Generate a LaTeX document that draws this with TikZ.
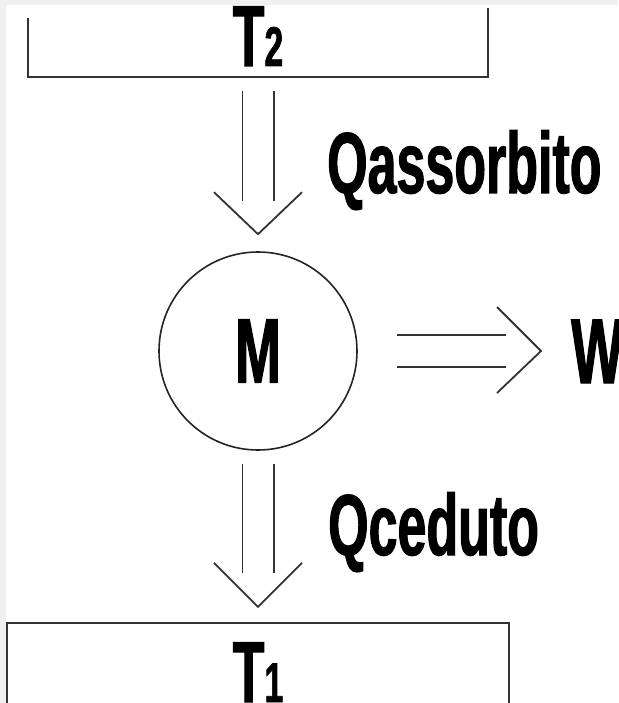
\documentclass[tikz,border=0pt]{standalone}
\usepackage{fontspec}
\setmainfont{Liberation Sans}[FakeStretch=0.6, FakeBold=1.2]
\usetikzlibrary{calc}
\definecolor{frame}{HTML}{F0F0F0}
\definecolor{ink}{HTML}{333333}
\begin{document}
\begin{tikzpicture}[x=1pt,y=-1pt,
  boxline/.style={draw=ink, line width=2.4pt},
  flow/.style={draw=ink, line width=1.8pt},
  lbl/.style={inner sep=0pt, font=\bfseries\fontsize{86.6}{90}\selectfont},
  big/.style={inner sep=0pt, font=\bfseries\fontsize{92}{96}\selectfont},
]
% page frame
\fill[frame] (0,0) rectangle (618,703);
\fill[white] (6,5) rectangle (618,703);
\useasboundingbox (0,0) rectangle (618,703);

% reservoirs and engine
\node[minimum width=460pt, minimum height=74pt, inner sep=0pt] (hot) at (258,40) {};
\node[minimum width=502pt, minimum height=100pt, inner sep=0pt] (cold) at (258,673) {};
\node[circle, draw=ink!70!black, line width=1.6pt, minimum size=198pt, big] (m) at (258,351) {M};

\draw[boxline] (hot.south west |- 0,18) -- (hot.south west) -- (hot.south east) -- (hot.south east |- 0,8);
\draw[boxline] (cold.south west |- 0,706) -- (cold.north west) -- (cold.north east) -- (cold.south east |- 0,706);

\node[lbl, anchor=base] (hotlbl) at (258,66) {T{\fontsize{56}{58}\selectfont 2}};
\node[lbl, anchor=base] (coldlbl) at (258,702) {T{\fontsize{56}{58}\selectfont 1}};

% heat absorbed
\draw[flow] ($(hot.south)+(-15.6,14)$) -- ($(m.north)+(-15.6,-50)$);
\draw[flow] ($(hot.south)+(15.6,14)$) -- ($(m.north)+(15.6,-50)$);
\draw[flow] ($(m.north)+(-44,-59)$) -- ($(m.north)+(0,-17)$) -- ($(m.north)+(44,-59)$);
\node[lbl, anchor=base west] (qin) at (327,193) {Qassorbito};

% heat released
\draw[flow] ($(m.south)+(-15.6,13)$) -- ($(cold.north)+(-15.6,-50)$);
\draw[flow] ($(m.south)+(15.6,13)$) -- ($(cold.north)+(15.6,-50)$);
\draw[flow] ($(cold.north)+(-44,-60)$) -- ($(cold.north)+(0,-16)$) -- ($(cold.north)+(44,-60)$);
\node[lbl, anchor=base west] (qout) at (328,555) {Qceduto};

% work output
\node[big, anchor=base west] (w) at (571,383) {W};
\draw[flow] ($(m.east)+(39,-15.7)$) -- ($(w.west |- m.east)+(-65,-15.7)$);
\draw[flow] ($(m.east)+(39,15.7)$) -- ($(w.west |- m.east)+(-65,15.7)$);
\draw[flow] ($(w.west |- m.east)+(-74,-44)$) -- ($(w.west |- m.east)+(-30,0)$) -- ($(w.west |- m.east)+(-74,42)$);
\end{tikzpicture}
\end{document}
